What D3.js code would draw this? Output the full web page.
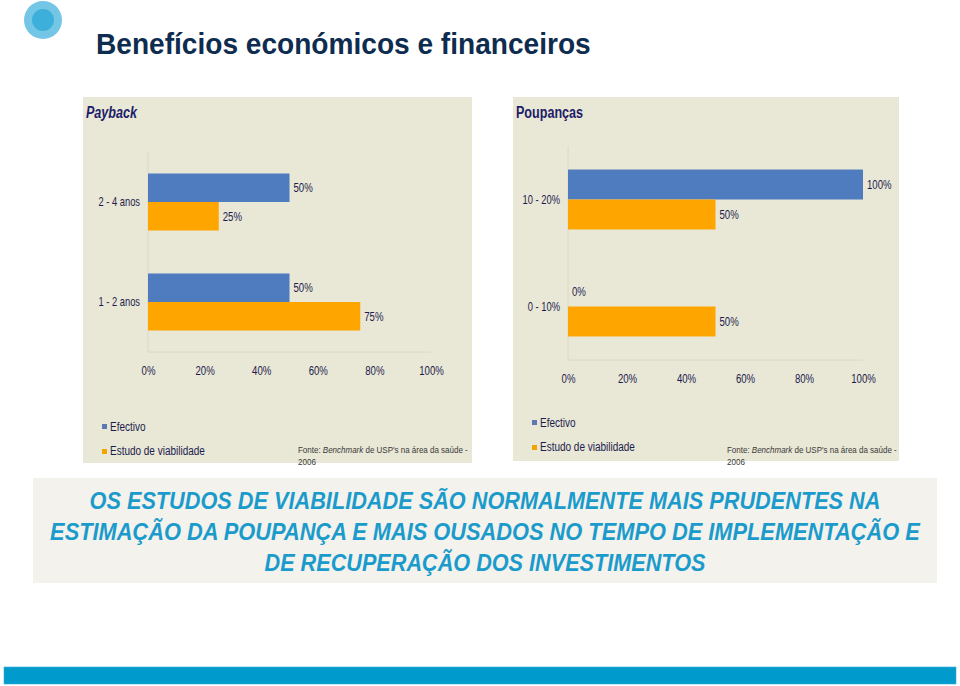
<!DOCTYPE html>
<html>
<head>
<meta charset="utf-8">
<script src="https://cdn.jsdelivr.net/npm/d3@7"></script>
<style>
  body { margin: 0; background: #fff; }
  text { font-family: "Liberation Sans Narrow", "Arial Narrow", "Liberation Sans", Arial, sans-serif; }
</style>
</head>
<body>
<div id="box"></div>
<script>
// dados
const seriesNames = ["Efectivo", "Estudo de viabilidade"];
const paybackCats = ["2 - 4 anos", "1 - 2 anos"];
const paybackEfectivo = [50, 50];
const paybackEstudo = [25, 75];
const poupCats = ["10 - 20%", "0 - 10%"];
const poupEfectivo = [100, 0];
const poupEstudo = [50, 50];
const xTicks = [0, 20, 40, 60, 80, 100];
const conclusao = [
  "OS ESTUDOS DE VIABILIDADE SÃO NORMALMENTE MAIS PRUDENTES NA",
  "ESTIMAÇÃO DA POUPANÇA E MAIS OUSADOS NO TEMPO DE IMPLEMENTAÇÃO E",
  "DE RECUPERAÇÃO DOS INVESTIMENTOS"
];

const barColors = ["#4f7bbf", "#ffa500"];
const legendColors = ["#5b79b3", "#f2a400"];
const navy = "#1c1c4f";

const width = 960, height = 686;

const svg = d3.select('#box').append('svg')
    .attr('width', width)
    .attr('height', height);

// aperta o texto na horizontal à volta do ponto de âncora (não há fonte estreita)
function squeeze(sel, f) {
  sel.each(function () {
    const X = +(this.getAttribute('x') || 0);
    d3.select(this)
      .attr('transform', `translate(${X},0) scale(${f},1) translate(${-X},0)`);
  });
}
// aperta até uma largura fixa
function fitTo(sel, w) {
  sel.each(function () {
    const l = this.getComputedTextLength();
    squeeze(d3.select(this), w / l);
  });
}

// bolinha do topo
svg.append('circle').attr('cx', 43).attr('cy', 20).attr('r', 19).attr('fill', '#74c6e6');
svg.append('circle').attr('cx', 43).attr('cy', 20).attr('r', 11).attr('fill', '#3cb0da');

svg.append('text')
    .attr('x', 96).attr('y', 54)
    .attr('font-size', '30px')
    .attr('font-weight', 'bold')
    .attr('fill', '#0e2c4f')
    .text('Benefícios económicos e financeiros')
    .call(fitTo, 495);

function drawPanel(p) {
  const g = svg.append('g');

  g.append('rect')
    .attr('x', p.px).attr('y', p.py)
    .attr('width', p.pw).attr('height', p.ph)
    .attr('fill', '#e9e7d5');

  g.append('text')
    .attr('x', p.px + 3).attr('y', 118)
    .attr('font-size', '17px')
    .attr('font-weight', 'bold')
    .attr('font-style', p.italic ? 'italic' : 'normal')
    .attr('fill', '#1d1d6a')
    .text(p.title)
    .call(squeeze, 0.74);

  const x = d3.scaleLinear().domain([0, 100]).range([p.x0, p.x1]);
  const y = d3.scaleBand().domain(p.cats).range([p.y0, p.y1])
    .paddingInner(p.pad).paddingOuter(p.pad / 2);
  const ys = d3.scaleBand().domain([0, 1]).range([0, y.bandwidth()]);

  // linhas de eixo claras
  g.append('line')
    .attr('x1', p.x0).attr('x2', p.x0)
    .attr('y1', p.y0).attr('y2', p.y1)
    .attr('stroke', '#dcd9c5');
  g.append('line')
    .attr('x1', p.x0).attr('x2', p.x1)
    .attr('y1', p.y1).attr('y2', p.y1)
    .attr('stroke', '#dcd9c5');

  p.series.forEach((vals, s) => {
    g.selectAll(null)
      .data(vals)
      .join('rect')
      .attr('x', x(0))
      .attr('y', (d, i) => y(p.cats[i]) + ys(s))
      .attr('width', d => x(d) - x(0))
      .attr('height', ys.bandwidth())
      .attr('fill', barColors[s]);

    g.selectAll(null)
      .data(vals)
      .join('text')
      .attr('x', d => x(d) + 4)
      .attr('y', (d, i) => y(p.cats[i]) + ys(s) + ys.bandwidth() / 2)
      .attr('dy', '0.35em')
      .attr('font-size', '13px')
      .attr('fill', navy)
      .text(d => d + '%')
      .call(squeeze, 0.74);
  });

  const xAxis = d3.axisBottom(x)
    .tickValues(xTicks)
    .tickFormat(d => d + '%')
    .tickSize(0)
    .tickPadding(14);
  g.append('g')
    .attr('transform', `translate(0,${p.y1})`)
    .call(xAxis)
    .call(a => a.select('.domain').remove())
    .selectAll('text')
    .attr('font-size', '13px')
    .attr('font-family', null)
    .attr('fill', navy)
    .call(squeeze, 0.74);

  const yAxis = d3.axisLeft(y).tickSize(0).tickPadding(8);
  g.append('g')
    .attr('transform', `translate(${p.x0},0)`)
    .call(yAxis)
    .call(a => a.select('.domain').remove())
    .selectAll('text')
    .attr('font-size', '13px')
    .attr('font-family', null)
    .attr('fill', navy)
    .call(squeeze, 0.72);

  // legenda
  seriesNames.forEach((name, i) => {
    g.append('rect')
      .attr('x', p.lx).attr('y', p.ly[i] - 2 + i)
      .attr('width', 5).attr('height', 5)
      .attr('fill', legendColors[i]);
    g.append('text')
      .attr('x', p.lx + 8).attr('y', p.ly[i])
      .attr('dy', '0.35em')
      .attr('font-size', '13.5px')
      .attr('fill', navy)
      .text(name)
      .call(squeeze, 0.74);
  });

  g.append('text')
    .attr('x', p.fx).attr('y', 453)
    .attr('font-size', '9.5px')
    .attr('fill', '#3a3a3a')
    .call(t => {
      t.append('tspan').text('Fonte: ');
      t.append('tspan').attr('font-style', 'italic').text('Benchmark');
      t.append('tspan').text(" de USP's na área da saúde -");
    })
    .call(fitTo, 170);
  g.append('text')
    .attr('x', p.fx).attr('y', 465)
    .attr('font-size', '9.5px')
    .attr('fill', '#3a3a3a')
    .text('2006')
    .call(squeeze, 0.85);
}

drawPanel({
  px: 83, py: 97, pw: 389, ph: 366,
  title: 'Payback', italic: true,
  x0: 148, x1: 431, y0: 152, y1: 352, pad: 0.43,
  cats: paybackCats, series: [paybackEfectivo, paybackEstudo],
  lx: 102, ly: [426, 450], fx: 298
});

drawPanel({
  px: 513, py: 97, pw: 386, ph: 364,
  title: 'Poupanças', italic: false,
  x0: 568, x1: 863, y0: 146, y1: 360, pad: 0.44,
  cats: poupCats, series: [poupEfectivo, poupEstudo],
  lx: 532, ly: [422, 446], fx: 727
});

// caixa de conclusão
svg.append('rect')
    .attr('x', 33).attr('y', 478)
    .attr('width', 904).attr('height', 105)
    .attr('fill', '#f3f2ed');

const lens = [791, 870, 441];
conclusao.forEach((line, i) => {
  svg.append('text')
    .attr('x', 485).attr('y', 509 + i * 31)
    .attr('text-anchor', 'middle')
    .attr('font-size', '23px')
    .attr('font-weight', 'bold')
    .attr('font-style', 'italic')
    .attr('fill', '#1b9bcb')
    .text(line)
    .call(fitTo, lens[i]);
});

svg.append('rect')
    .attr('x', 4).attr('y', 667)
    .attr('width', 952).attr('height', 17)
    .attr('fill', '#009bcc')
    .attr('stroke', '#33b0d8')
    .attr('stroke-width', 0.6);
</script>
</body>
</html>
